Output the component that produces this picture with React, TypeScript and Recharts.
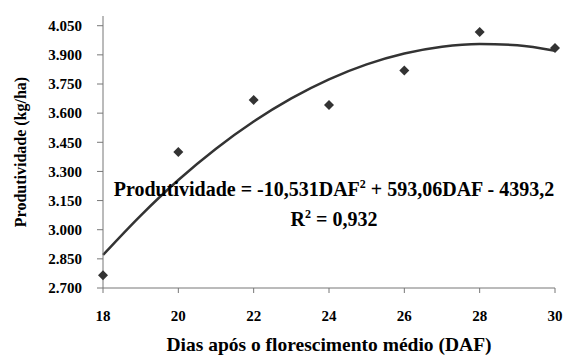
import React from 'react';
import {
  ComposedChart, Line, Scatter, XAxis, YAxis, Label,
} from 'recharts';

// observed yield per DAF
const DAF = [18, 20, 22, 24, 26, 28, 30];
const YIELD = [2765, 3400, 3668, 3642, 3820, 4018, 3935];

// trend curve
const CURVE_X = [18, 19, 20, 21, 22, 23, 24, 25, 26, 27, 28, 29, 30];
const CURVE_Y = [2870, 3073, 3256, 3417, 3557, 3676, 3774, 3851, 3907, 3942, 3956, 3949, 3921];

const X_TICKS = [18, 20, 22, 24, 26, 28, 30];
const Y_TICKS = [2700, 2850, 3000, 3150, 3300, 3450, 3600, 3750, 3900, 4050];

const points = DAF.map((d, i) => ({ daf: d, y: YIELD[i] }));
const curve = CURVE_X.map((d, i) => ({ daf: d, fit: CURVE_Y[i] }));

const FONT = 'Liberation Serif, DejaVu Serif, serif';
const INK = '#000';
const AXIS = '#777';

const fmt = (v: number) => `${Math.floor(v / 1000)}.${String(v % 1000).padStart(3, '0')}`;

function Diamond(props: { cx?: number; cy?: number }) {
  const { cx = 0, cy = 0 } = props;
  const r = 5;
  return <path d={`M${cx},${cy - r}L${cx + r},${cy}L${cx},${cy + r}L${cx - r},${cy}Z`} fill="#333" />;
}

export default function App() {
  return (
    <div style={{ position: 'absolute', left: 0, top: 0, width: 566, height: 358, background: '#fff', fontFamily: FONT }}>
      <ComposedChart width={566} height={358} margin={{ top: 16, right: 11, bottom: 0, left: 0 }}
        style={{ fontFamily: FONT }}>
        <XAxis
          dataKey="daf" type="number" domain={[18, 30]} ticks={X_TICKS}
          height={70}
          stroke={AXIS} tickSize={5} tickMargin={17}
          tick={{ fontSize: 15, fontWeight: 700, fontFamily: FONT, fill: INK }}
        >
          <Label value="Dias após o florescimento médio (DAF)" position="insideBottom" offset={7}
            style={{ fontSize: 19.5, fontWeight: 700, fontFamily: FONT, fill: INK }} />
        </XAxis>
        <YAxis
          type="number" domain={[2700, 4100]} ticks={Y_TICKS} width={103}
          stroke={AXIS} tickSize={6} tickMargin={15} tickFormatter={fmt}
          tick={{ fontSize: 15, fontWeight: 700, fontFamily: FONT, fill: INK }}
        >
          <Label value="Produtividade (kg/ha)" position="insideLeft" angle={-90} offset={20}
            style={{ textAnchor: 'middle', fontSize: 16, fontWeight: 700, fontFamily: FONT, fill: INK }} />
        </YAxis>
        <Line data={curve} dataKey="fit" type="monotone" stroke="#333" strokeWidth={2.5}
          dot={false} activeDot={false} isAnimationActive={false} />
        <Scatter data={points} dataKey="y" shape={<Diamond />} isAnimationActive={false} />
      </ComposedChart>
      <div style={{
        position: 'absolute', left: 84, width: 500, top: 174, textAlign: 'center',
        fontFamily: FONT, fontWeight: 700, fontSize: 20, lineHeight: '30px', color: INK,
      }}>
        <div>Produtividade = -10,531DAF<sup style={{ fontSize: 12, lineHeight: 0 }}>2</sup> + 593,06DAF - 4393,2</div>
        <div>R<sup style={{ fontSize: 12, lineHeight: 0 }}>2</sup> = 0,932</div>
      </div>
    </div>
  );
}
